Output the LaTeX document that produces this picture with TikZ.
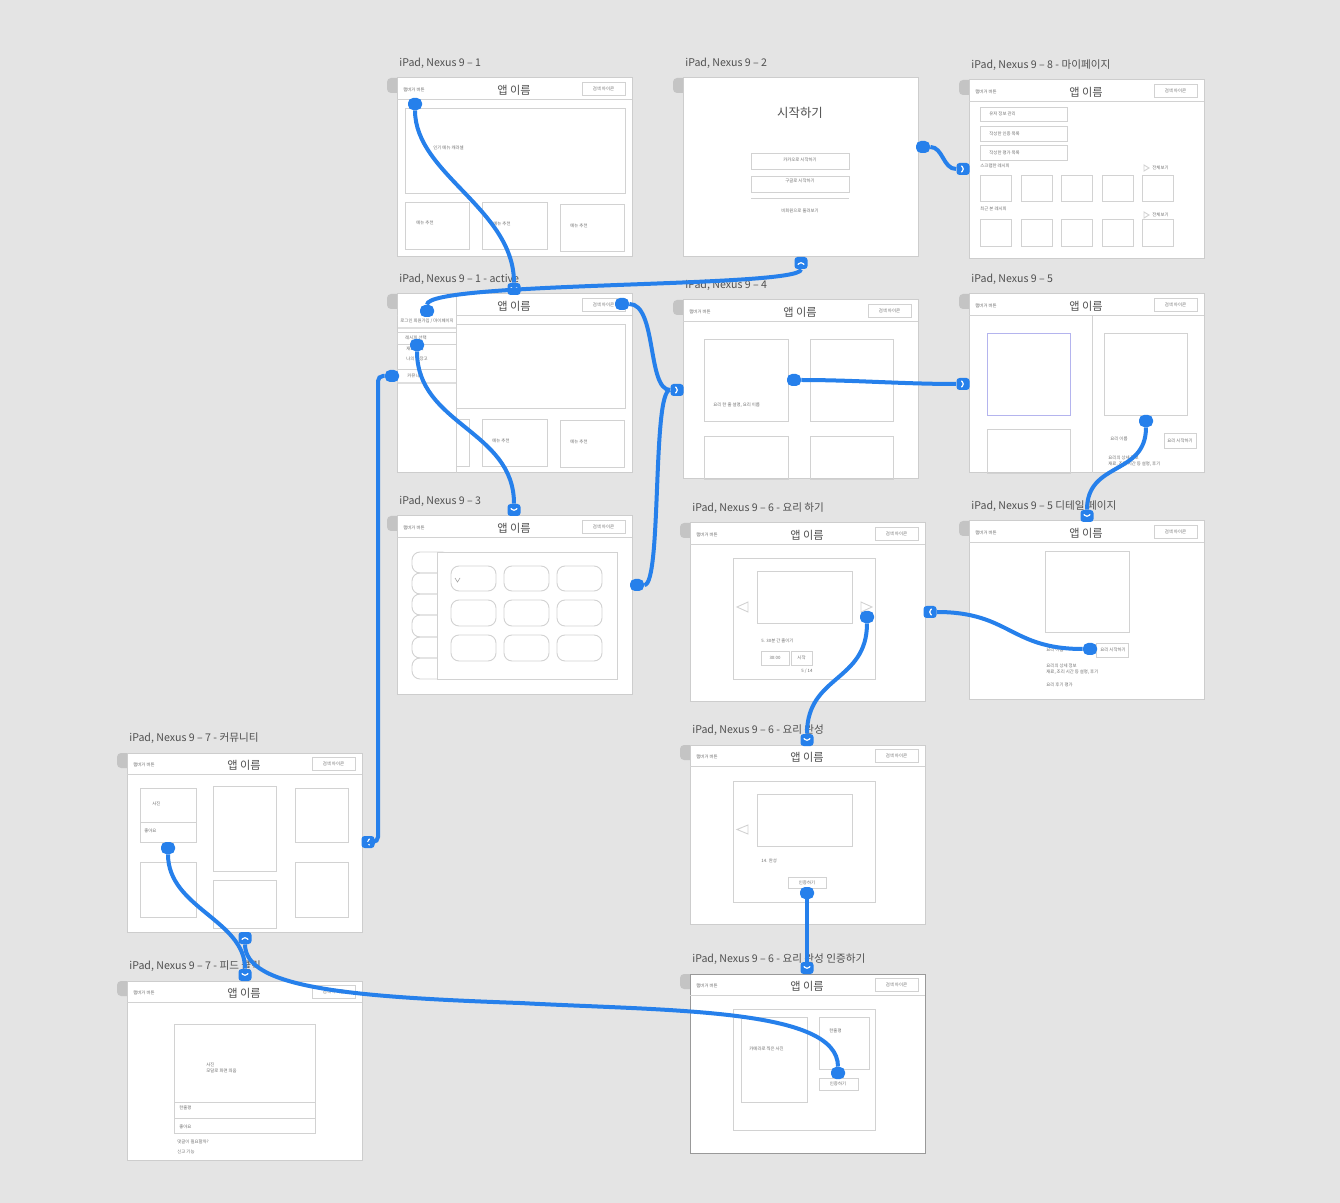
\documentclass[tikz,border=0pt]{standalone}
\usepackage{fontspec}
\setmainfont{Noto Sans CJK KR}
\usepackage{xcolor}
\usetikzlibrary{positioning,calc}

\definecolor{boardbg}{HTML}{E4E4E4}
\definecolor{framegrey}{HTML}{CDCDCD}
\definecolor{tabgrey}{HTML}{C4C4C4}
\definecolor{linegrey}{HTML}{D2D2D2}
\definecolor{textgrey}{HTML}{505050}
\definecolor{smallgrey}{HTML}{6E6E6E}
\definecolor{flowblue}{HTML}{2680EB}
\definecolor{lavender}{HTML}{B4B4EE}

\tikzset{
  boardtitle/.style={font=\fontsize{5.3}{6}\selectfont, text=textgrey, inner sep=0pt},
  tiny/.style={font=\fontsize{2.2}{2.8}\selectfont, text=smallgrey, inner sep=0pt},
  appname/.style={font=\fontsize{5.6}{6.5}\selectfont, text=textgrey, inner sep=0pt},
  boxline/.style={draw=linegrey, line width=0.45pt},
  flow/.style={draw=flowblue, line width=2pt},
  blob/.style={fill=flowblue, rounded corners=2.5pt, minimum width=7pt, minimum height=6pt, inner sep=0pt},
  badge/.style={fill=flowblue, rounded corners=1.5pt, minimum width=6.5pt, minimum height=6pt, inner sep=0pt},
  chev/.style={draw=white, line width=0.6pt, line cap=round, line join=round},
  badgedown/.style={badge, path picture={\draw[chev] ([shift={(-3,-1.5)}]path picture bounding box.center) -- ([shift={(0,1.5)}]path picture bounding box.center) -- ([shift={(3,-1.5)}]path picture bounding box.center);}},
  badgeup/.style={badge, path picture={\draw[chev] ([shift={(-3,1.5)}]path picture bounding box.center) -- ([shift={(0,-1.5)}]path picture bounding box.center) -- ([shift={(3,1.5)}]path picture bounding box.center);}},
  badgeright/.style={badge, path picture={\draw[chev] ([shift={(-1.5,-3)}]path picture bounding box.center) -- ([shift={(1.5,0)}]path picture bounding box.center) -- ([shift={(-1.5,3)}]path picture bounding box.center);}},
  badgeleft/.style={badge, path picture={\draw[chev] ([shift={(1.5,-3)}]path picture bounding box.center) -- ([shift={(-1.5,0)}]path picture bounding box.center) -- ([shift={(1.5,3)}]path picture bounding box.center);}},
  pics/artboard/.style={code={
    \fill[tabgrey, rounded corners=2pt] (-10,0) rectangle (4,15);
    \filldraw[fill=white, draw=framegrey, line width=0.5pt] (0,0) rectangle (235,179);
    \node[boardtitle, anchor=west] at (2,-15) {#1};
  }},
  pics/appbar/.style={code={
    \draw[boxline] (0,21) -- (235,21);
    \node[tiny, anchor=west] at (6,12) {햄버거 버튼};
    \node[appname] at (117,12) {앱 이름};
    \draw[boxline] (185,4) rectangle (228,17);
    \node[tiny] at (206.5,10.5) {검색 아이콘};
  }},
}

\begin{document}
\begin{tikzpicture}[x=0.5pt, y=-0.5pt]
			\useasboundingbox (0,0) rectangle (1340,1203);
			\fill[boardbg] (0,0) rectangle (1340,1203);

			% iPad, Nexus 9 - 1
			\pic at (397,78) {artboard={iPad, Nexus 9 – 1}};
			\pic at (397,78) {appbar};
			\draw[boxline] (405,108) rectangle (625,193);
			\node[tiny, anchor=west] at (433,148) {인기 메뉴 캐러셀};
			\draw[boxline] (405,202) rectangle (469,249);
			\draw[boxline] (482,202) rectangle (547,249);
			\draw[boxline] (560,204) rectangle (624,251);
			\node[tiny, anchor=west] at (416,223) {메뉴 추천};
			\node[tiny, anchor=west] at (493,224) {메뉴 추천};
			\node[tiny, anchor=west] at (570,226) {메뉴 추천};

			% iPad, Nexus 9 - 2
			\pic at (683,78) {artboard={iPad, Nexus 9 – 2}};
			\node[font=\fontsize{6.2}{7}\selectfont, text=textgrey] at (800,113) {시작하기};
			\draw[boxline] (751,153) rectangle (849,169);
			\draw[boxline] (751,176) rectangle (849,192);
			\draw[boxline] (751,198) -- (849,198);
			\node[tiny] at (800,160) {카카오로 시작하기};
			\node[tiny] at (800,181) {구글로 시작하기};
			\node[tiny] at (800,211) {비회원으로 둘러보기};

			% iPad, Nexus 9 - 8 (my page)
			\pic at (969,80) {artboard={iPad, Nexus 9 – 8 - 마이페이지}};
			\pic at (969,80) {appbar};
			\draw[boxline] (980,107) rectangle (1067,121);
			\draw[boxline] (980,126) rectangle (1067,141);
			\draw[boxline] (980,145) rectangle (1067,160);
			\node[tiny, anchor=west] at (989,114) {유저 정보 관리};
			\node[tiny, anchor=west] at (989,133.5) {작성한 인증 목록};
			\node[tiny, anchor=west] at (989,152.5) {작성한 평가 목록};
			\node[tiny, anchor=west] at (980,166) {스크랩한 레시피};
			\draw[boxline] (1144,165) -- (1149,168) -- (1144,171) -- cycle;
			\node[tiny, anchor=west] at (1152,168) {전체보기};
			\draw[boxline] (980,175) rectangle (1011,201);
			\draw[boxline] (1021,175) rectangle (1052,201);
			\draw[boxline] (1061,175) rectangle (1092,201);
			\draw[boxline] (1102,175) rectangle (1133,201);
			\draw[boxline] (1142,175) rectangle (1173,201);
			\node[tiny, anchor=west] at (980,209) {최근 본 레시피};
			\draw[boxline] (1144,212) -- (1149,215) -- (1144,218) -- cycle;
			\node[tiny, anchor=west] at (1152,215) {전체보기};
			\draw[boxline] (980,219) rectangle (1011,246);
			\draw[boxline] (1021,219) rectangle (1052,246);
			\draw[boxline] (1061,219) rectangle (1092,246);
			\draw[boxline] (1102,219) rectangle (1133,246);
			\draw[boxline] (1142,219) rectangle (1173,246);

			% iPad, Nexus 9 - 1 - active (side menu open)
			\pic at (397,294) {artboard={iPad, Nexus 9 – 1 - active}};
			\pic at (397,294) {appbar};
			\draw[boxline] (405,324) rectangle (625,408);
			\draw[boxline] (405,419) rectangle (469,466);
			\draw[boxline] (482,419) rectangle (547,466);
			\draw[boxline] (560,420) rectangle (624,467);
			\node[tiny, anchor=west] at (492,441) {메뉴 추천};
			\node[tiny, anchor=west] at (570,442) {메뉴 추천};
			\fill[white] (397.5,294.5) rectangle (456,472.5);
			\draw[boxline] (456,294.5) -- (456,473);
			\node[tiny, anchor=west] at (400,321) {로그인 회원가입 / 마이페이지};
			\fill[linegrey!70] (397.5,327) rectangle (456,329);
			\draw[boxline] (397.5,332) rectangle (456,344);
			\node[tiny, anchor=west] at (405,337.5) {레시피 선택};
			\node[tiny, anchor=west] at (406,349) {재료 검색};
			\node[tiny, anchor=west] at (406,359) {나의 냉장고};
			\draw[boxline] (397.5,369) rectangle (456,382);
			\node[tiny, anchor=west] at (407,376) {커뮤니티};
			\fill[linegrey!70] (397.5,382) rectangle (456,384);

			% iPad, Nexus 9 - 4
			\pic at (683,300) {artboard={iPad, Nexus 9 – 4}};
			\pic at (683,300) {appbar};
			\draw[boxline] (704,339) rectangle (788,421);
			\draw[boxline] (810,339) rectangle (893,421);
			\draw[boxline] (704,436) rectangle (788,479);
			\draw[boxline] (810,436) rectangle (893,479);
			\node[tiny, anchor=west] at (713,405) {요리 한 줄 설명, 요리 이름};

			% iPad, Nexus 9 - 5
			\pic at (969,294) {artboard={iPad, Nexus 9 – 5}};
			\pic at (969,294) {appbar};
			\draw[boxline] (1092,315) -- (1092,473);
			\draw[draw=lavender, line width=0.45pt] (987,333) rectangle (1070,415);
			\draw[boxline] (987,429) rectangle (1070,473);
			\draw[boxline] (1104,333) rectangle (1187,415);
			\node[tiny, anchor=west] at (1110,439) {요리 이름};
			\draw[boxline] (1164,433) rectangle (1196,448);
			\node[tiny] at (1180,440.5) {요리 시작하기};
			\node[tiny, anchor=west, align=left] at (1108,461) {요리의 상세 정보\\재료, 조리 시간 등 설명, 후기};

			% iPad, Nexus 9 - 3
			\pic at (397,516) {artboard={iPad, Nexus 9 – 3}};
			\pic at (397,516) {appbar};
			\draw[boxline, rounded corners=4pt] (412,552) rectangle (450,573);
			\draw[boxline, rounded corners=4pt] (412,573) rectangle (450,594);
			\draw[boxline, rounded corners=4pt] (412,594) rectangle (450,615);
			\draw[boxline, rounded corners=4pt] (412,615) rectangle (450,637);
			\draw[boxline, rounded corners=4pt] (412,637) rectangle (450,658);
			\draw[boxline, rounded corners=4pt] (412,658) rectangle (450,679);
			\filldraw[fill=white, draw=linegrey, line width=0.45pt] (437,552) rectangle (617,679);
			\draw[boxline, rounded corners=4pt] (451,566) rectangle (496,591);
			\draw[boxline, rounded corners=4pt] (504,566) rectangle (549,591);
			\draw[boxline, rounded corners=4pt] (557,566) rectangle (602,591);
			\draw[boxline, rounded corners=4pt] (451,600) rectangle (496,626);
			\draw[boxline, rounded corners=4pt] (504,600) rectangle (549,626);
			\draw[boxline, rounded corners=4pt] (557,600) rectangle (602,626);
			\draw[boxline, rounded corners=4pt] (451,635) rectangle (496,661);
			\draw[boxline, rounded corners=4pt] (504,635) rectangle (549,661);
			\draw[boxline, rounded corners=4pt] (557,635) rectangle (602,661);
			\draw[draw=black!35, line width=0.3pt] (455,578) -- (457.5,582) -- (460,578);

			% iPad, Nexus 9 - 6 - cooking
			\pic at (690,523) {artboard={iPad, Nexus 9 – 6 - 요리 하기}};
			\pic at (690,523) {appbar};
			\draw[boxline] (733,558) rectangle (875,679);
			\draw[boxline] (757,571) rectangle (852,623);
			\draw[boxline] (748,602) -- (737,607) -- (748,612) -- cycle;
			\draw[boxline] (861,602) -- (872,607) -- (861,612) -- cycle;
			\node[tiny, anchor=west] at (761,641) {5. 30분 간 졸이기};
			\draw[boxline] (761,651) rectangle (789,665);
			\draw[boxline] (791,651) rectangle (812,665);
			\node[tiny] at (775,658) {30:00};
			\node[tiny] at (801.5,658) {시작};
			\node[tiny] at (807,671) {5 / 14};

			% iPad, Nexus 9 - 5 detail page
			\pic at (969,521) {artboard={iPad, Nexus 9 – 5 디테일 페이지}};
			\pic at (969,521) {appbar};
			\draw[boxline] (1045,551) rectangle (1129,632);
			\node[tiny, anchor=west] at (1046,650) {요리 이름};
			\draw[boxline] (1096,643) rectangle (1128,657);
			\node[tiny] at (1113,650) {요리 시작하기};
			\node[tiny, anchor=west, align=left] at (1046,669) {요리의 상세 정보\\재료, 조리 시간 등 설명, 후기};
			\node[tiny, anchor=west] at (1046,685) {요리 후기 평가};

			% iPad, Nexus 9 - 6 - done
			\pic at (690,745) {artboard={iPad, Nexus 9 – 6 - 요리 완성}};
			\pic at (690,745) {appbar};
			\draw[boxline] (733,781) rectangle (875,902);
			\draw[boxline] (757,794) rectangle (852,846);
			\draw[boxline] (748,825) -- (737,829.5) -- (748,834) -- cycle;
			\node[tiny, anchor=west] at (761,861) {14. 완성};
			\draw[boxline] (788,877) rectangle (826,888);
			\node[tiny] at (807,882.5) {인증하기};

			% iPad, Nexus 9 - 6 - verify
			\pic at (690,974) {artboard={iPad, Nexus 9 – 6 - 요리 완성 인증하기}};
			\draw[draw=black!40, line width=0.5pt] (690,974) rectangle (925,1153);
			\pic at (690,974) {appbar};
			\draw[boxline] (733,1009) rectangle (875,1130);
			\draw[boxline] (741,1017) rectangle (807,1102);
			\node[tiny, anchor=west] at (749,1049) {카메라로 찍은 사진};
			\draw[boxline] (819,1017) rectangle (869,1069);
			\node[tiny, anchor=west] at (829,1031) {한줄평};
			\draw[boxline] (819,1078) rectangle (858,1090);
			\node[tiny] at (838,1084) {인증하기};

			% iPad, Nexus 9 - 7 - community
			\pic at (127,753) {artboard={iPad, Nexus 9 – 7 - 커뮤니티}};
			\pic at (127,753) {appbar};
			\draw[boxline] (140,788) rectangle (196,842);
			\draw[boxline] (140,822) -- (196,822);
			\node[tiny, anchor=west] at (152,804) {사진};
			\node[tiny, anchor=west] at (144,831) {좋아요};
			\draw[boxline] (213,786) rectangle (276,871);
			\draw[boxline] (295,788) rectangle (348,842);
			\draw[boxline] (140,862) rectangle (196,917);
			\draw[boxline] (213,880) rectangle (276,928);
			\draw[boxline] (295,862) rectangle (348,917);

			% iPad, Nexus 9 - 7 - feed click
			\pic at (127,981) {artboard={iPad, Nexus 9 – 7 - 피드 클릭}};
			\pic at (127,981) {appbar};
			\draw[boxline] (174,1024) rectangle (315,1133);
			\draw[boxline] (174,1102) -- (315,1102);
			\draw[boxline] (174,1118) -- (315,1118);
			\node[tiny, anchor=west, align=left] at (206,1068) {사진\\모달로 화면 띄움};
			\node[tiny, anchor=west] at (179,1108) {한줄평};
			\node[tiny, anchor=west] at (179,1127) {좋아요};
			\node[tiny, anchor=west] at (177,1142) {댓글이 필요할까?};
			\node[tiny, anchor=west] at (177,1152) {신고 기능};

			% link sources
			\node[blob] (homeslide) at (415,104) {};
			\node[blob] (menulogin) at (427,311) {};
			\node[blob] (menurecipe) at (417,345) {};
			\node[blob] (menucomm) at (392,376) {};
			\node[blob] (activesearch) at (622,304) {};
			\node[blob] (gridright) at (637,585) {};
			\node[blob] (startright) at (923,147) {};
			\node[blob] (listcard) at (794,380) {};
			\node[blob] (detailimg) at (1146,421) {};
			\node[blob] (detailstart) at (1090,649) {};
			\node[blob] (cooknext) at (867,617) {};
			\node[blob] (donebtn) at (807,893) {};
			\node[blob] (verifybtn) at (838,1073) {};
			\node[blob] (feedcard) at (168,848) {};

			% link targets
			\node[badgedown] (toactive) at (514,289) {};
			\node[badgeup] (tostart) at (801,263) {};
			\node[badgedown] (togrid) at (514,510) {};
			\node[badgeright] (tolist) at (677,390) {};
			\node[badgeright] (tomypage) at (963,169) {};
			\node[badgeright] (todetail) at (963,384) {};
			\node[badgedown] (todetailpage) at (1087,516) {};
			\node[badgeleft] (tocook) at (930,612) {};
			\node[badgedown] (todone) at (807,740) {};
			\node[badgedown] (toverify) at (807,968) {};
			\node[badgeleft] (tocomm) at (368,842) {};
			\node[badgeup] (tocommback) at (245,938) {};
			\node[badgedown] (tofeed) at (245,975) {};
			\coordinate (commbend) at (378,842);
			\coordinate (crossmid) at (520,1003);

			% links
			\draw[flow] (homeslide) .. controls +(0,70) and +(0,-80) .. (toactive);
			\draw[flow] (menulogin) .. controls +(0,-30) and +(0,25) .. (tostart);
			\draw[flow] (activesearch) .. controls +(35,0) and +(-30,0) .. (tolist);
			\draw[flow] (gridright) .. controls +(25,0) and +(-25,0) .. (tolist);
			\draw[flow] (menurecipe) .. controls +(0,80) and +(0,-80) .. (togrid);
			\draw[flow, rounded corners=2.5pt] (menucomm.west) -| (commbend) -- (tocomm.east);
			\draw[flow] (startright) .. controls +(20,0) and +(-20,0) .. (tomypage);
			\draw[flow] (listcard) .. controls +(60,0) and +(-60,0) .. (todetail);
			\draw[flow] (detailimg) .. controls +(0,55) and +(0,-55) .. (todetailpage);
			\draw[flow] (detailstart) .. controls +(-80,0) and +(80,0) .. (tocook);
			\draw[flow] (cooknext) .. controls +(0,65) and +(0,-65) .. (todone);
			\draw[flow] (donebtn) -- (toverify);
			\draw[flow] (verifybtn) .. controls +(0,-65) and +(150,8) .. (crossmid)
				.. controls +(-170,-6) and +(0,50) .. (tocommback);
			\draw[flow] (feedcard) .. controls +(0,60) and +(0,-55) .. (tofeed);
		\end{tikzpicture}
\end{document}
